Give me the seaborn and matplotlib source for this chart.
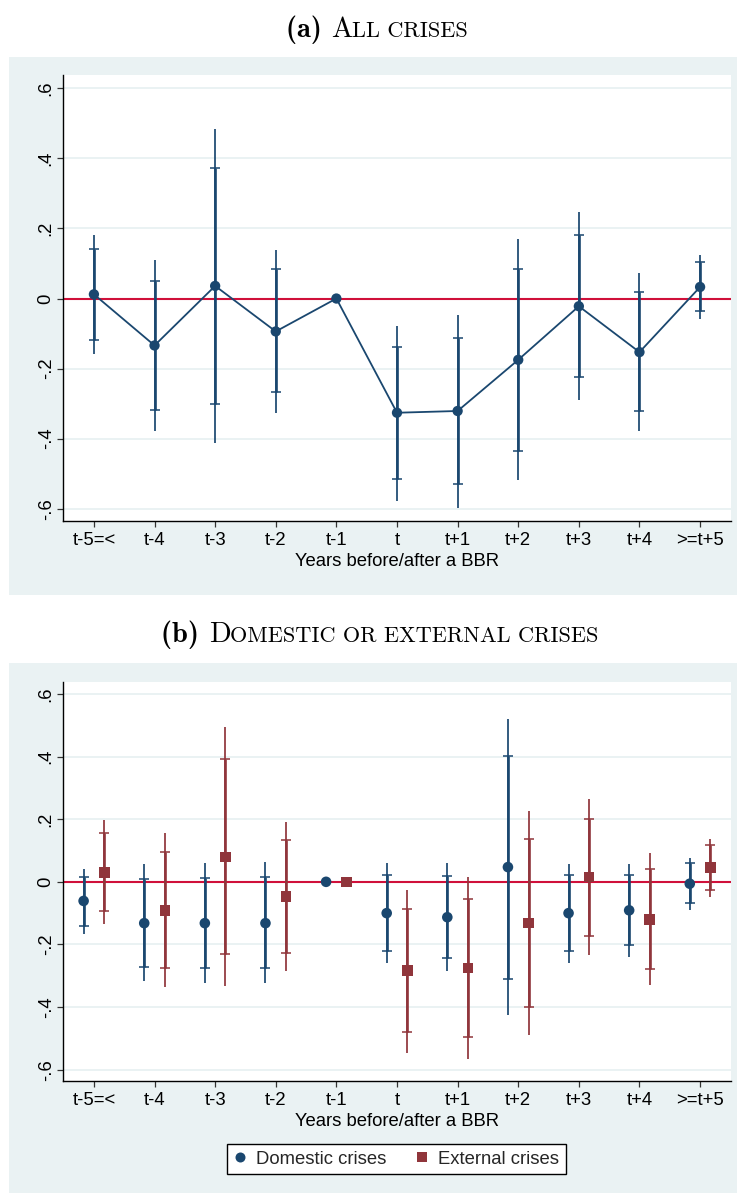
import numpy as np
import pandas as pd
import matplotlib
matplotlib.use("Agg")
import matplotlib.pyplot as plt
import seaborn as sns
from matplotlib.patches import Rectangle

cats = ["t-5=<", "t-4", "t-3", "t-2", "t-1", "t", "t+1", "t+2", "t+3", "t+4", ">=t+5"]
nan = np.nan

# (a) all crises: point estimate, 90% and 95% bands
all_b = [0.012, -0.134, 0.036, -0.094, 0.0, -0.326, -0.321, -0.175, -0.022, -0.153, 0.033]
all_lo90 = [-0.118, -0.317, -0.302, -0.268, nan, -0.515, -0.530, -0.434, -0.225, -0.322, -0.036]
all_hi90 = [0.140, 0.051, 0.373, 0.083, nan, -0.138, -0.113, 0.085, 0.182, 0.018, 0.103]
all_lo95 = [-0.157, -0.377, -0.412, -0.326, nan, -0.578, -0.598, -0.519, -0.291, -0.377, -0.058]
all_hi95 = [0.182, 0.110, 0.483, 0.139, nan, -0.077, -0.046, 0.169, 0.247, 0.074, 0.125]

# (b) domestic crises
dom_b = [-0.061, -0.132, -0.132, -0.132, 0.0, -0.100, -0.113, 0.047, -0.100, -0.091, -0.006]
dom_lo90 = [-0.141, -0.273, -0.276, -0.276, nan, -0.221, -0.243, -0.309, -0.221, -0.202, -0.069]
dom_hi90 = [0.015, 0.009, 0.012, 0.015, nan, 0.021, 0.018, 0.403, 0.021, 0.021, 0.059]
dom_lo95 = [-0.166, -0.318, -0.323, -0.323, nan, -0.260, -0.285, -0.426, -0.260, -0.241, -0.089]
dom_hi95 = [0.040, 0.056, 0.059, 0.063, nan, 0.059, 0.060, 0.519, 0.058, 0.057, 0.077]

# (b) external crises
ext_b = [0.030, -0.091, 0.079, -0.047, 0.0, -0.284, -0.275, -0.132, 0.015, -0.120, 0.045]
ext_lo90 = [-0.093, -0.276, -0.230, -0.227, nan, -0.479, -0.494, -0.401, -0.173, -0.279, -0.026]
ext_hi90 = [0.155, 0.094, 0.392, 0.134, nan, -0.088, -0.056, 0.137, 0.201, 0.040, 0.116]
ext_lo95 = [-0.134, -0.337, -0.333, -0.286, nan, -0.545, -0.566, -0.489, -0.235, -0.331, -0.049]
ext_hi95 = [0.196, 0.155, 0.493, 0.191, nan, -0.025, 0.015, 0.225, 0.263, 0.092, 0.137]

yticks = [-0.6, -0.4, -0.2, 0, 0.2, 0.4, 0.6]
ylabels = ["-.6", "-.4", "-.2", "0", ".2", ".4", ".6"]

navy = "#1a476f"
maroon = "#90353b"
zero_red = "#d0103a"
bg = "#eaf2f3"
FS = 13.3

sns.set_theme(style="white")
plt.rcParams["font.family"] = ["Liberation Sans", "DejaVu Sans"]

W, H = 737, 1193
fig = plt.figure(figsize=(W / 100, H / 100), dpi=100)
fig.patch.set_facecolor("white")

# stata-like graph regions
fig.add_artist(Rectangle((9 / W, 1 - 595 / H), 1 - 9 / W, 538 / H, transform=fig.transFigure,
                         facecolor=bg, edgecolor="none", zorder=-10))
fig.add_artist(Rectangle((9 / W, 0), 1 - 9 / W, 530 / H, transform=fig.transFigure,
                         facecolor=bg, edgecolor="none", zorder=-10))

ax1 = fig.add_axes([63 / W, 1 - 521 / H, (731 - 63) / W, (521 - 75) / H])
ax2 = fig.add_axes([63 / W, 1 - 1080.7 / H, (731 - 63) / W, (1080.7 - 682) / H])

pos = np.arange(len(cats))


def draw_ci(ax, x, b, lo90, hi90, lo95, hi95, color):
    x = np.asarray(x, float)
    b = np.asarray(b, float)
    lo90, hi90 = np.asarray(lo90, float), np.asarray(hi90, float)
    lo95, hi95 = np.asarray(lo95, float), np.asarray(hi95, float)
    m = ~np.isnan(lo90)
    ax.vlines(x[m], lo95[m], hi95[m], color=color, lw=1.25, zorder=3)
    ax.errorbar(x[m], b[m], yerr=[b[m] - lo90[m], hi90[m] - b[m]], fmt="none",
                ecolor=color, elinewidth=1.9, capsize=3.3, capthick=1.1, zorder=3)


def style_axes(ax):
    ax.set_facecolor("white")
    ax.set_xlim(-0.51, 10.51)
    ax.set_ylim(-0.635, 0.638)
    ax.set_yticks(yticks)
    ax.set_yticklabels(ylabels, rotation=90, va="center", fontsize=FS)
    ax.set_xticks(pos)
    ax.set_xticklabels(cats, fontsize=FS)
    for y in yticks:
        ax.axhline(y, color=bg, lw=1.4, zorder=0)
    ax.axhline(0, color=zero_red, lw=1.5, zorder=2)
    for s in ["top", "right"]:
        ax.spines[s].set_visible(False)
    for s in ["left", "bottom"]:
        ax.spines[s].set_color("black")
        ax.spines[s].set_linewidth(1.0)
    ax.tick_params(axis="both", direction="out", length=4, width=0.9, color="#333333",
                   left=True, bottom=True, labelcolor="black")
    ax.tick_params(axis="y", pad=2)
    ax.tick_params(axis="x", pad=4)
    ax.set_xlabel("Years before/after a BBR", fontsize=FS, labelpad=3, color="black")
    ax.set_ylabel("")


# panel (a)
df_a = pd.DataFrame({"pos": pos, "b": all_b})
draw_ci(ax1, pos, all_b, all_lo90, all_hi90, all_lo95, all_hi95, navy)
sns.lineplot(data=df_a, x="pos", y="b", ax=ax1, color=navy, lw=1.3, zorder=4)
sns.scatterplot(data=df_a, x="pos", y="b", ax=ax1, color=navy, s=55, edgecolor="none", zorder=5)
style_axes(ax1)

# panel (b)
off = 0.17
df_b = pd.DataFrame({
    "pos": np.concatenate([pos - off, pos + off]),
    "b": dom_b + ext_b,
    "group": ["Domestic crises"] * len(cats) + ["External crises"] * len(cats),
})
draw_ci(ax2, pos - off, dom_b, dom_lo90, dom_hi90, dom_lo95, dom_hi95, navy)
draw_ci(ax2, pos + off, ext_b, ext_lo90, ext_hi90, ext_lo95, ext_hi95, maroon)
sns.scatterplot(data=df_b, x="pos", y="b", hue="group", style="group", ax=ax2,
                palette={"Domestic crises": navy, "External crises": maroon},
                markers={"Domestic crises": "o", "External crises": "s"},
                s=58, edgecolor="none", zorder=5)
style_axes(ax2)
handles, labels = ax2.get_legend_handles_labels()
ax2.get_legend().remove()
for h in handles:
    h.set_markersize(7.2)
    h.set_markeredgewidth(0)
leg = fig.legend(handles, labels, loc="center", bbox_to_anchor=(396.5 / W, 1 - 1159 / H),
                 ncol=2, fontsize=FS, frameon=True, fancybox=False, edgecolor="black",
                 framealpha=1, borderpad=0.35, columnspacing=1.6, handletextpad=0.5,
                 handlelength=0.7)
leg.get_frame().set_linewidth(1.0)


# titles with emulated small caps
def small_caps_title(pieces, cx, base_y):
    fig.canvas.draw()
    r = fig.canvas.get_renderer()
    texts = []
    for s, size, fam in pieces:
        t = fig.text(0, base_y / H, s, fontsize=size, family=fam, va="baseline", ha="left",
                     transform=fig.transFigure, color="black")
        texts.append(t)
    widths = [t.get_window_extent(renderer=r).width for t in texts]
    x = cx - sum(widths) / 2
    for t, w in zip(texts, widths):
        t.set_x(x / W)
        x += w


BIG, SMALL = 20.5, 16
small_caps_title([("(a) ", BIG, "cmb10"), ("A", BIG, "cmr10"), ("LL CRISES", SMALL, "cmr10")],
                 377, H - 36.7)
small_caps_title([("(b) ", BIG, "cmb10"), ("D", BIG, "cmr10"),
                  ("OMESTIC OR EXTERNAL CRISES", SMALL, "cmr10")],
                 380, H - 641.7)

fig.savefig("out.png", dpi=100)
